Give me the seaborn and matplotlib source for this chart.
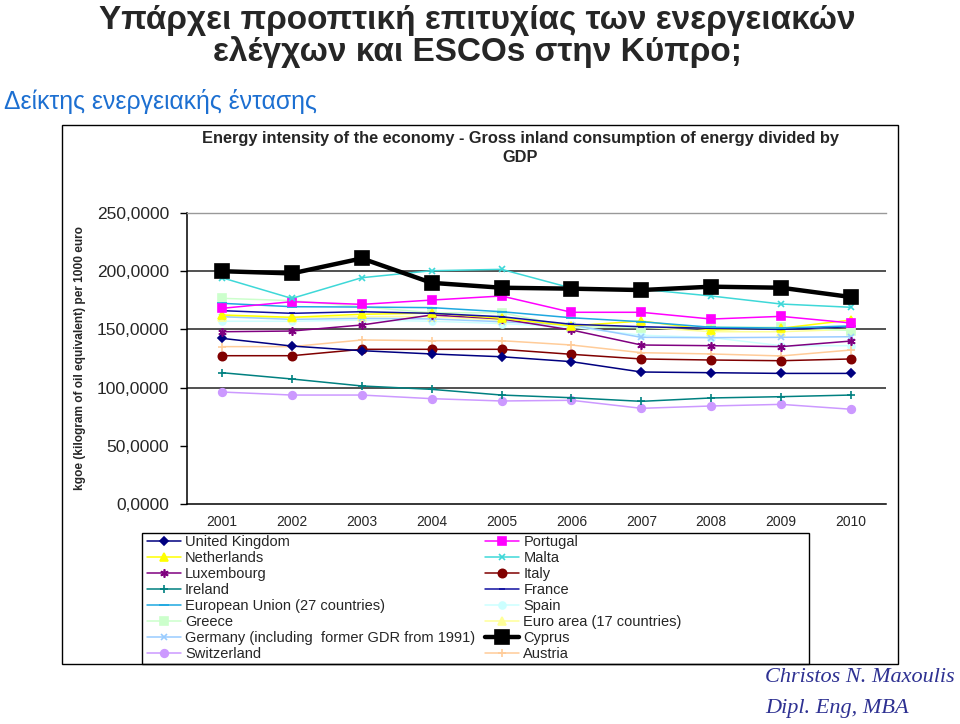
import matplotlib
matplotlib.use("Agg")
import matplotlib.pyplot as plt
import matplotlib.patches as patches
from matplotlib.ticker import FuncFormatter, FixedLocator
import seaborn as sns
import pandas as pd

years = ["2001", "2002", "2003", "2004", "2005", "2006", "2007", "2008", "2009", "2010"]

united_kingdom = [142.3, 135.7, 131.7, 128.9, 126.5, 122.3, 113.4, 112.8, 112.2, 112.2]
netherlands = [162.4, 160.4, 163.0, 164.0, 159.5, 153.0, 157.2, 149.5, 151.0, 158.1]
luxembourg = [148.0, 148.6, 153.8, 162.4, 159.0, 149.5, 136.6, 136.0, 135.2, 140.0]
ireland = [112.8, 107.4, 101.4, 98.5, 93.6, 91.3, 88.2, 91.1, 92.2, 93.6]
eu27 = [172.4, 169.5, 169.2, 168.7, 165.2, 160.0, 156.6, 151.8, 151.2, 153.0]
greece = [176.7, 174.7, 169.5, 164.3, 164.3, 152.3, 151.5, 151.9, 151.9, 149.0]
germany = [160.9, 158.6, 159.5, 159.0, 156.6, 153.8, 143.2, 142.9, 143.2, 143.7]
switzerland = [96.2, 93.6, 93.6, 90.5, 88.5, 89.1, 82.2, 84.2, 85.6, 81.4]
portugal = [168.1, 173.8, 171.5, 175.2, 178.7, 164.7, 164.7, 158.9, 161.2, 155.5]
malta = [194.4, 176.6, 194.4, 200.4, 201.6, 185.5, 184.5, 178.7, 171.8, 169.0]
italy = [127.4, 127.4, 132.9, 132.9, 132.9, 128.6, 124.6, 123.7, 123.1, 124.6]
france = [166.1, 163.8, 165.2, 163.8, 160.9, 154.4, 152.3, 150.9, 150.0, 152.3]
spain = [157.0, 157.0, 158.0, 157.0, 155.0, 152.0, 145.0, 143.0, 136.0, 136.0]
euro_area = [161.0, 160.0, 161.0, 161.0, 158.0, 153.0, 152.0, 148.0, 148.0, 150.0]
cyprus = [200.0, 198.1, 211.0, 190.0, 185.8, 185.0, 183.8, 186.7, 185.8, 177.8]
austria = [135.2, 135.2, 140.9, 140.3, 140.3, 136.6, 130.0, 128.9, 127.2, 132.3]

y_ticks = [0, 50, 100, 150, 200, 250]

# (label, data, color, marker, markersize, linewidth)
series = [
    ("United Kingdom", united_kingdom, "#000080", "D", 4.5, 1.1),
    ("Netherlands", netherlands, "#FFFF00", "^", 6, 1.1),
    ("Luxembourg", luxembourg, "#800080", (6, 2, 0), 6, 1.1),
    ("Ireland", ireland, "#008080", "+", 6, 1.1),
    ("European Union (27 countries)", eu27, "#1EA8E0", "_", 7, 1.1),
    ("Greece", greece, "#CCFFCC", "s", 6, 1.1),
    ("Germany (including  former GDR from 1991)", germany, "#99CCFF", "x", 5, 1.1),
    ("Switzerland", switzerland, "#CC99FF", "o", 5.5, 1.1),
    ("Portugal", portugal, "#FF00FF", "s", 6, 1.1),
    ("Malta", malta, "#3ED8D8", "x", 5, 1.1),
    ("Italy", italy, "#800000", "o", 6, 1.1),
    ("France", france, "#1010A0", "_", 5, 1.1),
    ("Spain", spain, "#CCFFFF", "o", 5, 1.1),
    ("Euro area (17 countries)", euro_area, "#FFFF99", "^", 6, 1.1),
    ("Cyprus", cyprus, "#000000", "s", 10, 3.2),
    ("Austria", austria, "#FFCC99", "+", 6, 1.1),
]

draw_order = ["Spain", "Euro area (17 countries)", "Greece", "Austria", "Germany (including  former GDR from 1991)",
              "Switzerland", "Ireland", "Italy", "United Kingdom", "Luxembourg", "Netherlands",
              "France", "European Union (27 countries)", "Portugal", "Malta", "Cyprus"]

sns.set_style("white")
plt.rcParams["font.family"] = ["Liberation Sans", "DejaVu Sans"]

fig = plt.figure(figsize=(9.6, 7.24), dpi=100)
W, H = 960.0, 724.0

def fx(px):
    return px / W

def fy(py):
    return 1 - py / H

ax = fig.add_axes([fx(187), fy(504), fx(886) - fx(187), fy(213) - fy(504)])

xs = list(range(len(years)))
handles = {}
lookup = {s[0]: s for s in series}
for name in draw_order:
    label, data, color, marker, ms, lw = lookup[name]
    df = pd.DataFrame({"x": xs, "y": data})
    sns.lineplot(data=df, x="x", y="y", ax=ax, color=color, marker=marker, markersize=ms,
                 linewidth=lw, markeredgecolor=color, markerfacecolor=color,
                 markeredgewidth=1.2, legend=False)
    handles[name] = ax.lines[-1]

ax.set_xlim(-0.5, 9.5)
ax.set_ylim(0, 250)
ax.yaxis.set_major_locator(FixedLocator(y_ticks))
ax.yaxis.set_major_formatter(FuncFormatter(lambda v, p: f"{v:.4f}".replace(".", ",")))
ax.set_xticks(xs)
ax.set_xticklabels(years)
ax.tick_params(axis="y", length=5, width=1, color="black", direction="out", labelsize=12.5, pad=8, left=True)
ax.tick_params(axis="x", length=0, labelsize=10, pad=8)
for g in [100, 150, 200]:
    ax.axhline(g, color="#222222", lw=1.1, zorder=0.5)
ax.spines["left"].set_color("black")
ax.spines["bottom"].set_color("black")
ax.spines["left"].set_linewidth(1.1)
ax.spines["bottom"].set_linewidth(1.1)
ax.spines["top"].set_color("#999999")
ax.spines["top"].set_linewidth(1.0)
ax.spines["right"].set_visible(False)
ax.set_xlabel("")
ax.set_ylabel("")

# y label
fig.text(fx(80), fy(358), "kgoe (kilogram of oil equivalent) per 1000 euro", rotation=90,
         ha="center", va="center", fontsize=8.6, fontweight="bold")

# chart frame
fig.patches.append(patches.Rectangle((fx(62), fy(664)), fx(898) - fx(62), fy(125) - fy(664),
                                     transform=fig.transFigure, fill=False, ec="black", lw=1))

# chart title
fig.text(fx(520), fy(139), "Energy intensity of the economy - Gross inland consumption of energy divided by",
         ha="center", va="center", fontsize=11.8, fontweight="bold")
fig.text(fx(520), fy(158), "GDP", ha="center", va="center", fontsize=11.8, fontweight="bold")

# big title
fig.text(fx(477), fy(20), "Υπάρχει προοπτική επιτυχίας των ενεργειακών", ha="center", va="center",
         fontsize=24, fontweight="bold")
fig.text(fx(477), fy(52), "ελέγχων και ESCOs στην Κύπρο;", ha="center", va="center",
         fontsize=24, fontweight="bold")
fig.text(fx(4), fy(102), "Δείκτης ενεργειακής έντασης", ha="left", va="center",
         fontsize=17.8, color="#1C6FD1")

# legend
legend_order = [s[0] for s in series]
leg = fig.legend([handles[n] for n in legend_order], legend_order, ncol=2, loc="upper left",
                 bbox_to_anchor=(fx(145), fy(533)), bbox_transform=fig.transFigure,
                 frameon=False, fontsize=10.5, handlelength=2.3, handletextpad=0.3,
                 labelspacing=0.14, columnspacing=0.7, borderaxespad=0, borderpad=0.15,
                 numpoints=1)
fig.patches.append(patches.Rectangle((fx(142), fy(664)), fx(809) - fx(142), fy(533) - fy(664),
                                     transform=fig.transFigure, fill=False, ec="black", lw=1))

# signature
fig.text(fx(765), fy(678), "Christos N. Maxoulis", ha="left", va="center", fontsize=16,
         style="italic", color="#2E3192", family=["Liberation Serif", "DejaVu Serif"])
fig.text(fx(765), fy(708), "Dipl. Eng, MBA", ha="left", va="center", fontsize=16,
         style="italic", color="#2E3192", family=["Liberation Serif", "DejaVu Serif"])

fig.savefig("out.png", dpi=100)
